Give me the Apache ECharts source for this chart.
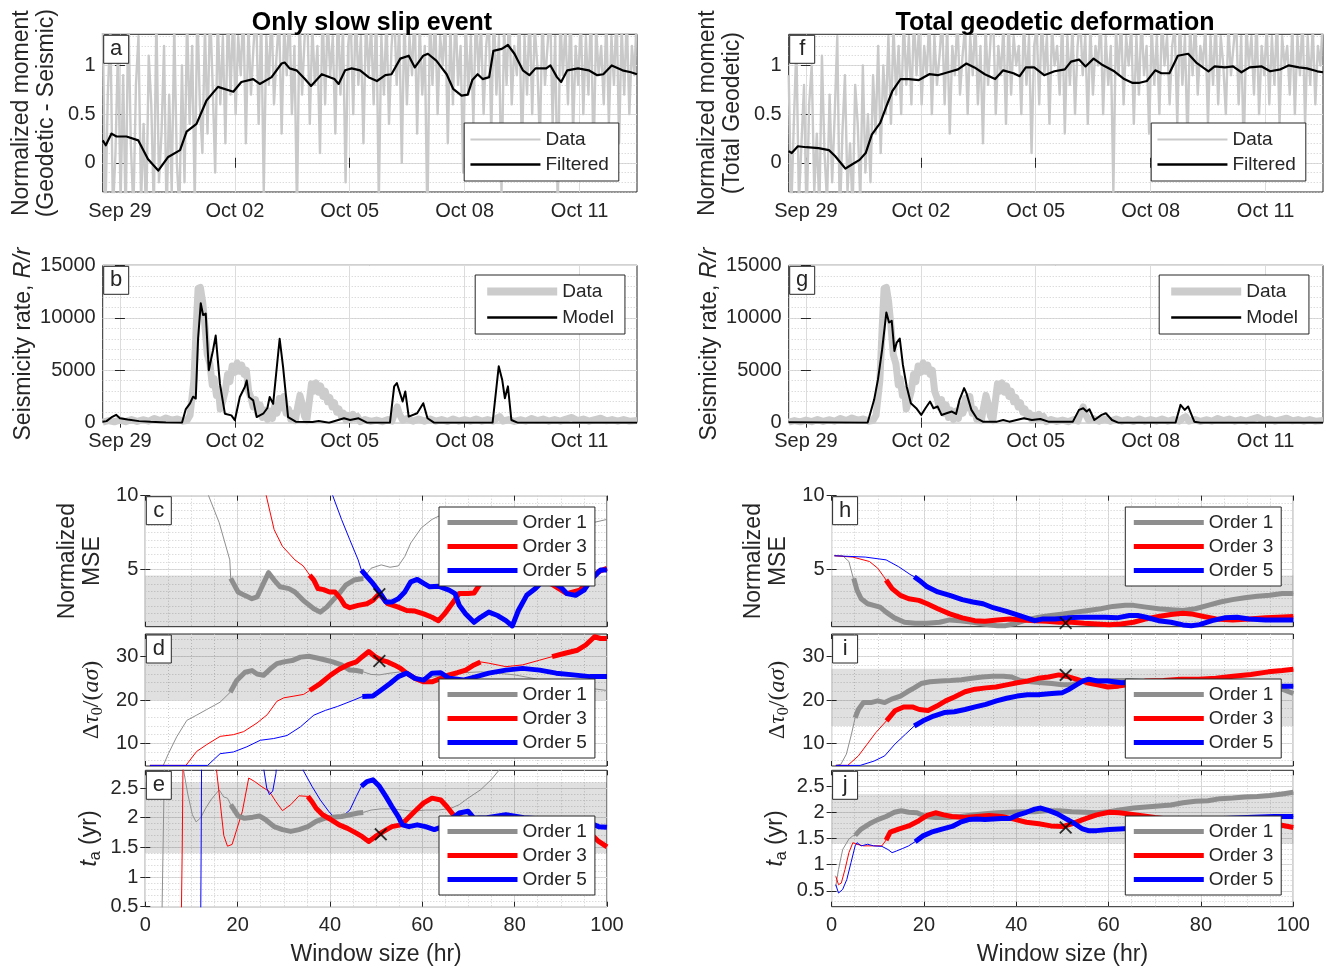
<!DOCTYPE html>
<html><head><meta charset="utf-8">
<script src="https://cdn.jsdelivr.net/npm/echarts@6/dist/echarts.min.js"></script>
<style>html,body{margin:0;padding:0;background:#fff}#c{width:1327px;height:972px}</style>
</head><body><div id="c"></div>
<script>
// ================= DATA =================
const dateTickValues = [0, 3, 6, 9, 12];
const dateTickLabels = ['Sep 29', 'Oct 02', 'Oct 05', 'Oct 08', 'Oct 11'];
const timeStart = -0.45, timeEnd = 13.5;           // days since Sep 29 00:00
const momentTicks = [0, 0.5, 1];
const rateTicks = [0, 5000, 10000, 15000];
const windowTicks = [0, 20, 40, 60, 80, 100];
const mseTicks = [5, 10];
const stressTicks = [10, 20, 30];
const taTicks = [0.5, 1, 1.5, 2, 2.5];

// Panel a: filtered normalized moment (Geodetic - Seismic)
const aFiltered = [[-0.45,0.23],[-0.37,0.18],[-0.22,0.30],[-0.09,0.27],[0.17,0.27],[0.48,0.23],[0.73,0.04],[1.0,-0.08],[1.26,0.06],[1.57,0.13],[1.74,0.32],[2.0,0.40],[2.26,0.64],[2.56,0.78],[2.96,0.73],[3.17,0.83],[3.48,0.86],[3.65,0.81],[3.96,0.88],[4.22,1.02],[4.30,1.03],[4.43,0.97],[4.61,0.95],[4.83,0.86],[4.99,0.79],[5.27,0.91],[5.60,0.86],[5.71,0.81],[5.88,0.95],[6.05,0.97],[6.27,0.95],[6.49,0.88],[6.71,0.84],[6.93,0.90],[7.09,0.91],[7.32,1.07],[7.54,1.10],[7.70,0.98],[7.92,1.10],[8.04,1.12],[8.26,1.05],[8.53,0.91],[8.70,0.76],[8.92,0.69],[9.08,0.70],[9.20,0.85],[9.34,0.91],[9.47,0.86],[9.64,0.88],[9.75,1.15],[9.97,1.17],[10.13,1.21],[10.30,1.12],[10.52,0.95],[10.69,0.90],[10.85,0.97],[11.13,0.97],[11.24,1.0],[11.41,0.88],[11.52,0.83],[11.68,0.95],[11.96,0.97],[12.24,0.95],[12.46,0.90],[12.62,0.91],[12.84,1.0],[13.12,0.95],[13.34,0.93],[13.5,0.91]];
// Panel a: raw data, evenly sampled from timeStart to timeEnd
const aDataRaw = [1.5,-0.6,0.7,1.4,-0.5,0.1,1.2,-0.4,0.9,-0.6,1.6,0.2,-0.5,0.8,1.3,-0.4,0.4,-0.6,1.1,0.6,-0.5,1.5,-0.2,0.3,1.2,-0.6,0.7,-0.3,1.4,0.0,-0.5,1.0,
 -0.2,1.5,0.4,1.2,-0.4,1.6,0.6,0.1,1.4,0.3,1.6,0.8,-0.1,1.5,0.6,1.3,0.2,1.6,0.7,
 1.5,0.5,1.3,0.9,1.6,0.2,1.4,0.7,1.2,1.6,0.4,1.5,-0.3,1.3,0.8,1.6,0.6,1.1,1.5,0.3,
 1.4,0.9,1.6,0.5,1.2,-0.5,1.5,0.7,1.3,1.6,0.4,1.4,0.8,1.2,0.1,1.6,0.6,1.5,0.9,1.3,
 0.3,1.6,0.7,1.4,-0.2,1.2,1.5,0.5,1.6,0.8,1.3,0.2,1.5,0.9,1.4,0.6,1.6,-0.4,1.3,0.7,
 1.5,0.4,1.2,1.6,0.8,1.4,0.0,1.5,0.6,1.3,0.9,1.6,0.3,1.4,0.7,1.2,-0.6,1.5,0.8,1.6,
 0.5,1.3,1.0,1.5,0.2,1.4,0.6,1.6,0.8,1.2,-0.1,1.5,0.7,1.3,0.4,1.6,0.9,1.4,0.5,1.2,
 1.5,0.3,1.6,0.7,1.3,-0.3,1.4,0.8,1.6,0.6,1.2,0.9,1.5,0.1,1.3,0.7,1.6,0.5,1.4,1.0,
 0.2,1.5,0.8,1.2,1.6,0.4,1.3,-0.5,1.5,0.9,1.4,0.6,1.6,0.3,1.2,0.8,1.5,0.5,1.3,0.7,
 1.6,0.0,1.4,0.9,1.2,0.6,1.5,0.4,1.3,0.8,1.6,0.2,1.4,0.7,1.5,0.5,1.2,0.9,1.6];
// Panel f: filtered normalized moment (Total Geodetic)
const fFiltered = [[-0.45,0.12],[-0.37,0.10],[-0.21,0.17],[0.01,0.16],[0.33,0.15],[0.60,0.13],[0.76,0.07],[0.97,-0.03],[1.03,-0.06],[1.19,-0.02],[1.40,0.03],[1.56,0.10],[1.72,0.29],[1.94,0.41],[2.10,0.58],[2.26,0.74],[2.47,0.86],[2.69,0.86],[2.95,0.85],[3.22,0.91],[3.44,0.90],[3.71,0.93],[3.97,0.96],[4.19,1.02],[4.40,0.98],[4.67,0.91],[4.94,0.86],[5.15,0.95],[5.42,0.92],[5.58,0.89],[5.74,0.98],[5.96,0.98],[6.22,0.90],[6.49,0.94],[6.76,0.96],[6.92,1.04],[7.13,1.06],[7.30,0.99],[7.51,1.07],[7.72,1.01],[8.05,0.94],[8.31,0.86],[8.53,0.82],[8.69,0.82],[8.90,0.84],[9.12,0.95],[9.28,0.92],[9.49,0.92],[9.71,1.10],[9.98,1.12],[10.19,1.03],[10.51,0.94],[10.67,0.99],[10.94,0.98],[11.15,0.99],[11.37,0.93],[11.58,0.98],[11.90,0.99],[12.12,0.94],[12.39,0.96],[12.60,1.0],[12.87,0.98],[13.08,0.97],[13.35,0.94],[13.5,0.93]];
const fDataRaw = [0.9,-0.5,0.4,1.2,-0.4,0.2,0.8,-0.6,0.6,1.0,-0.3,0.3,-0.5,1.1,0.1,-0.4,0.7,-0.2,0.5,1.3,-0.6,0.3,0.9,-0.3,0.2,-0.5,0.8,0.4,-0.4,1.0,-0.1,0.5,
 -0.2,0.9,0.3,1.2,0.1,1.0,0.5,1.3,0.4,1.4,0.7,1.2,0.5,1.5,0.8,1.3,0.6,1.5,0.9,
 1.4,0.6,1.2,0.9,1.5,0.5,1.3,0.8,1.1,1.5,0.6,1.4,0.3,1.2,0.9,1.5,0.7,1.1,1.4,0.5,
 1.3,0.9,1.5,0.6,1.2,0.2,1.4,0.8,1.3,1.5,0.5,1.2,0.9,1.4,0.4,1.5,0.7,1.3,1.0,1.2,
 0.5,1.5,0.8,1.3,0.1,1.2,1.4,0.6,1.5,0.9,1.3,0.4,1.4,1.0,1.2,0.7,1.5,0.3,1.3,0.8,
 1.4,0.5,1.2,1.5,0.9,1.3,0.4,1.4,0.7,1.2,1.0,1.5,0.5,1.3,0.8,1.2,-0.3,1.4,0.9,1.5,
 0.6,1.3,1.0,1.4,0.4,1.3,0.7,1.5,0.9,1.2,0.3,1.4,0.8,1.3,0.5,1.5,1.0,1.3,0.6,1.2,
 1.4,0.4,1.5,0.8,1.3,0.2,1.4,0.9,1.5,0.7,1.2,1.0,1.4,0.4,1.3,0.8,1.5,0.6,1.3,1.0,
 0.5,1.4,0.9,1.2,1.5,0.6,1.3,0.1,1.4,1.0,1.3,0.7,1.5,0.5,1.2,0.9,1.4,0.6,1.3,0.8,
 1.5,0.4,1.3,1.0,1.2,0.7,1.4,0.5,1.3,0.9,1.5,0.4,1.3,0.8,1.4,0.6,1.2,1.0,1.5];
// Panels b, g: observed seismicity rate
const seisData = [[-0.45,50],[-0.3,200],[-0.15,80],[0.0,250],[0.15,100],[0.3,300],[0.45,120],[0.6,280],[0.75,150],[0.9,400],[1.05,200],[1.2,450],[1.35,250],[1.5,350],[1.65,150],[1.75,200],[1.83,700],[1.93,4000],[1.99,9000],[2.04,12800],[2.1,12900],[2.16,11500],[2.22,9200],[2.28,6500],[2.35,5600],[2.41,3600],[2.46,4200],[2.52,2600],[2.57,3200],[2.62,1300],[2.68,2000],[2.75,3000],[2.81,4600],[2.87,3900],[2.93,5400],[3.0,4800],[3.06,5700],[3.12,4900],[3.18,5500],[3.24,4600],[3.3,5000],[3.36,3000],[3.42,2400],[3.48,1500],[3.54,2200],[3.6,900],[3.66,1700],[3.72,500],[3.78,1200],[3.85,300],[3.92,1100],[3.98,400],[4.04,1600],[4.1,900],[4.16,2300],[4.22,1400],[4.28,2500],[4.34,900],[4.4,1300],[4.46,300],[4.52,900],[4.58,200],[4.64,1500],[4.7,2600],[4.76,1800],[4.82,600],[4.88,200],[4.94,1900],[5.0,3700],[5.06,3000],[5.12,3800],[5.18,2900],[5.24,3500],[5.3,2500],[5.36,3000],[5.42,2000],[5.48,2400],[5.54,1500],[5.6,1900],[5.66,1000],[5.72,1300],[5.78,600],[5.84,900],[5.9,250],[5.96,700],[6.02,300],[6.08,800],[6.14,400],[6.2,600],[6.28,100],[6.4,300],[6.55,120],[6.7,250],[6.85,100],[7.0,300],[7.1,150],[7.17,900],[7.24,1500],[7.3,800],[7.38,250],[7.5,400],[7.65,150],[7.8,350],[7.95,150],[8.1,350],[8.25,150],[8.4,300],[8.55,120],[8.7,350],[8.85,150],[9.0,300],[9.15,150],[9.3,350],[9.45,150],[9.6,300],[9.75,150],[9.85,450],[9.92,580],[10.0,150],[10.15,300],[10.3,120],[10.45,280],[10.6,150],[10.75,400],[10.9,200],[11.05,350],[11.2,150],[11.35,300],[11.5,150],[11.65,350],[11.8,500],[11.95,200],[12.1,350],[12.25,150],[12.4,300],[12.55,420],[12.7,180],[12.85,300],[13.0,150],[13.15,300],[13.3,150],[13.5,200]];
const bModel = [[-0.45,100],[-0.35,150],[-0.2,560],[-0.1,750],[0.0,420],[0.2,300],[0.5,150],[0.8,80],[1.2,20],[1.62,0],[1.72,1300],[1.83,1850],[1.91,2480],[1.98,2300],[2.04,8000],[2.11,11380],[2.17,10260],[2.24,10400],[2.32,5000],[2.43,6900],[2.50,8300],[2.61,3720],[2.74,860],[2.91,700],[3.0,230],[3.13,2450],[3.26,3400],[3.31,4030],[3.37,2450],[3.48,2130],[3.57,540],[3.75,900],[3.85,1400],[3.91,2450],[4.0,1800],[4.17,8000],[4.26,5300],[4.39,540],[4.59,100],[5.03,60],[5.19,160],[5.46,0],[5.85,420],[6.01,260],[6.23,420],[6.45,0],[7.05,0],[7.16,3460],[7.23,3780],[7.38,2020],[7.45,2980],[7.54,580],[7.76,900],[7.92,1860],[8.03,420],[8.20,0],[9.73,0],[9.89,5380],[9.98,4100],[10.05,2340],[10.13,3460],[10.22,260],[10.38,0],[13.5,0]];
const gModel = [[-0.45,50],[1.61,0],[1.78,2180],[1.88,4100],[1.99,6990],[2.10,10510],[2.17,9550],[2.24,9710],[2.31,6830],[2.37,7630],[2.45,8010],[2.53,5550],[2.63,3460],[2.74,1860],[2.88,1380],[3.01,740],[3.12,1380],[3.24,2020],[3.33,1380],[3.44,1540],[3.54,740],[3.67,900],[3.81,1060],[3.92,830],[4.01,2180],[4.13,3300],[4.19,2820],[4.32,1220],[4.46,417],[4.62,100],[4.99,100],[5.15,256],[5.31,100],[5.69,417],[5.9,256],[6.12,350],[6.33,100],[6.97,100],[7.13,1220],[7.24,1380],[7.33,1060],[7.4,1280],[7.53,256],[7.72,740],[7.83,900],[7.99,256],[8.15,0],[9.65,0],[9.78,1700],[9.89,1220],[9.98,1540],[10.14,100],[10.3,0],[13.5,0]];

// Panels c-e (only slow slip event) vs window size
const cOrder1 = [[12,12],[13.7,10],[16,8.17],[18.3,5.64],[18.5,4.38],[20.1,3.46],[21.5,3.23],[23.1,3.0],[24.2,3.12],[25.6,4.04],[26.7,4.77],[27.9,4.27],[29.2,3.81],[31.1,3.69],[32.4,3.46],[34.2,2.89],[36.5,2.32],[37.9,2.09],[39.3,2.43],[40.6,2.89],[42.0,3.35],[43.4,3.92],[45.2,4.27],[47.2,4.38],[48.9,5.07],[51.1,5.30],[53.0,5.14],[54.8,5.23],[56.2,5.87],[57.5,6.79],[59.8,7.82],[62.1,8.39],[64.4,8.74],[68.9,8.85],[73.5,8.51],[78.1,8.62],[82.6,8.28],[87.2,8.05],[91.8,7.94],[96,8.1],[100,8.39]];
const cOrder3 = [[24,12],[26.2,10],[27.9,7.7],[29.7,6.56],[32.4,5.64],[34.2,5.23],[35.6,4.61],[36.5,4.27],[37.4,3.69],[38.6,3.62],[39.9,3.46],[41.1,3.46],[42.3,3.0],[43.2,2.55],[44.3,2.39],[46.1,2.55],[48.0,2.66],[49.3,2.89],[50.7,3.35],[52.5,2.66],[54.8,2.43],[56.6,2.2],[58.4,2.16],[60.3,1.97],[62.1,1.74],[63.5,1.51],[64.8,1.97],[66.7,2.78],[68.0,3.35],[69.9,3.35],[71.2,3.39],[72.6,4.04],[76,4.5],[80,4.6],[84,4.4],[88,4.0],[91.3,3.35],[94.1,3.58],[96.3,4.27],[98.2,4.84],[100,5.07]];
const cOrder5 = [[39,12],[40.6,10],[42.5,8.39],[44.3,7.0],[46.1,5.64],[46.8,4.95],[48.0,4.5],[49.3,4.04],[50.7,3.46],[52.1,2.78],[53.4,2.78],[54.8,3.0],[56.2,3.46],[57.5,4.15],[58.9,4.31],[60.3,4.04],[61.6,3.81],[63.5,3.85],[65.8,3.58],[67.1,3.35],[68.0,2.55],[69.4,1.97],[71.2,1.4],[72.6,1.74],[74.4,2.09],[76.3,1.86],[78.1,1.51],[79.5,1.15],[80.8,2.2],[82.6,3.23],[84.5,3.69],[86.3,4.27],[88.1,4.15],[89.9,3.81],[91.3,3.35],[93.2,3.23],[95.0,3.58],[96.8,4.38],[98.6,4.95],[100,4.95]];
const dOrder1 = [[1.0,4.9],[3.9,4.9],[5.0,7.6],[6.8,11.5],[9.0,15.3],[11.1,16.5],[13.3,17.8],[16.2,19.5],[18.4,21.8],[19.8,24.5],[21.6,26.4],[23.1,26.8],[24.2,26.0],[25.6,25.7],[27.1,27.2],[28.5,28.4],[30.0,28.8],[31.8,29.1],[33.6,29.9],[35.4,30.1],[37.2,29.7],[38.8,29.3],[40.6,28.8],[42.5,28.1],[44.3,26.9],[45.7,26.8],[47.2,26.5],[48.9,25.9],[50.7,25.8],[53.0,26.2],[55.3,26.5],[57.5,25.4],[59.8,24.6],[62.6,25.4],[65.3,25.8],[68.9,26.3],[72.6,26.5],[76.3,26.2],[80,25.8],[84,25.0],[88,24.0],[92,23.3],[96.3,22.7],[100,22.2]];
const dOrder3 = [[1.0,4.9],[8.8,4.9],[11.1,8.1],[13.3,9.7],[16.2,11.6],[19.1,12.0],[21.3,12.7],[24.2,14.7],[26.4,16.6],[28.5,19.7],[30.0,20.5],[32.2,20.9],[34.3,21.3],[35.6,22.2],[37.9,23.8],[40.2,25.8],[42.0,27.1],[43.8,28.1],[45.7,28.8],[47.0,30.0],[48.4,31.2],[49.8,30.0],[51.1,29.2],[52.5,28.8],[53.9,28.1],[55.3,27.3],[56.6,26.2],[58.4,25.0],[60.3,24.2],[62.1,24.2],[64.0,25.0],[65.8,25.8],[67.6,26.3],[69.4,26.9],[71.2,28.1],[72.6,28.8],[74.4,28.5],[78.1,27.7],[81.7,28.1],[85.4,29.2],[88.1,30.0],[90.9,30.8],[93.6,31.5],[95.4,32.7],[97.3,34.6],[98.6,34.2],[100,34.2]];
const dOrder5 = [[1.0,4.9],[13.5,4.9],[16.2,7.6],[19.1,8.0],[22.0,9.2],[24.9,10.7],[27.8,11.1],[30.7,11.8],[33.6,13.8],[36.5,16.5],[39,17.6],[41.6,18.5],[45.2,20.0],[47.0,20.8],[49.3,20.9],[51.1,22.3],[53.0,23.8],[54.8,25.4],[56.6,26.2],[58.4,25.0],[60.3,24.6],[62.1,26.2],[64.0,26.3],[65.8,25.0],[68.9,24.6],[71.7,25.4],[74.4,26.2],[78.1,26.9],[81.7,27.3],[85.4,26.9],[89.0,26.2],[92.7,25.8],[96.3,25.4],[100,25.4]];
const eOrder1 = [[3.6,0.3],[4.2,3.2],[7.5,3.2],[8.3,2.8],[9.2,2.4],[10.2,2.05],[11.0,1.93],[12.0,2.0],[13.0,2.15],[14.2,2.3],[16.0,2.47],[17.0,2.35],[17.8,2.33],[18.5,2.22],[20.1,2.03],[21.5,1.99],[23.3,2.01],[24.7,2.03],[26.0,1.97],[27.9,1.85],[29.7,1.80],[31.5,1.77],[33.3,1.80],[35.2,1.85],[37.0,1.94],[38.8,1.99],[40.6,2.01],[42.5,2.02],[44.3,2.05],[46.1,2.08],[47.2,2.09],[48.9,2.13],[51.1,2.15],[53.4,2.15],[55.7,2.13],[58.0,2.11],[60.7,2.13],[63.5,2.13],[66.2,2.16],[68.0,2.22],[69.9,2.33],[72.6,2.47],[74.9,2.64],[76.7,2.81],[78,3.0]];
const eOrder3 = [[7.8,0.3],[8.0,1.5],[8.2,3.2],[14.8,3.2],[15.5,2.75],[16.3,2.2],[17.0,1.7],[17.8,1.52],[18.8,1.55],[19.8,1.8],[21.0,2.1],[22.4,2.67],[23.7,2.61],[25.1,2.53],[26.9,2.44],[28.3,2.27],[29.7,2.12],[31.5,2.22],[33.3,2.37],[35.2,2.36],[36.1,2.27],[37.0,2.16],[38.4,2.05],[40.2,1.97],[42.0,1.88],[43.8,1.82],[45.7,1.74],[47.0,1.68],[48.4,1.60],[49.8,1.68],[51.6,1.77],[53.4,1.85],[55.3,1.88],[56.6,1.97],[58.4,2.11],[60.3,2.25],[62.1,2.33],[64.0,2.30],[65.3,2.19],[66.7,2.05],[70,1.95],[75,1.9],[80,1.92],[85,1.95],[90,1.9],[94,1.85],[96.3,1.74],[98.2,1.60],[100,1.51]];
const eOrder5 = [[12.0,0.3],[12.1,1.5],[12.2,3.2],[25.3,3.2],[25.7,2.8],[26.3,2.5],[26.9,2.39],[27.6,2.45],[28.3,2.75],[28.7,3.2],[33.8,3.2],[34.2,2.8],[36.1,2.53],[37.9,2.30],[39.7,2.11],[41.1,1.99],[42.5,2.01],[44.3,2.13],[45.7,2.36],[46.8,2.53],[48.0,2.61],[49.3,2.64],[50.7,2.53],[52.1,2.36],[53.4,2.19],[54.8,2.02],[55.7,1.88],[57.1,1.85],[58.9,1.88],[60.7,1.85],[62.6,1.80],[64.4,1.85],[66.2,1.97],[68.0,2.08],[69.9,2.11],[71.2,1.99],[74,2.0],[78.1,2.05],[82,2.0],[86,1.98],[90,1.95],[94,1.93],[96.3,1.91],[98.2,1.85],[100,1.84]];
// Panels h-j (total geodetic deformation)
const hOrder1 = [[0.6,5.92],[2.4,5.92],[3.75,5.53],[4.6,4.5],[4.8,4.38],[5.5,3.58],[6.4,3.0],[7.8,2.66],[9.1,2.55],[10.5,2.43],[11.8,2.09],[13.6,1.70],[15.8,1.40],[18.1,1.33],[20.7,1.33],[23.4,1.40],[25.6,1.56],[27.9,1.51],[30.6,1.40],[33.2,1.26],[35.9,1.16],[37.7,1.17],[39.9,1.33],[42.2,1.56],[44.9,1.74],[47.5,1.86],[50.2,1.97],[52.9,2.09],[55.6,2.2],[58.3,2.32],[60.9,2.48],[63.6,2.55],[65.4,2.55],[68.1,2.43],[70.8,2.32],[73.5,2.25],[76.1,2.2],[78.8,2.32],[81.5,2.55],[84.2,2.78],[86.8,2.94],[89.5,3.07],[92.2,3.17],[94.9,3.23],[97.6,3.35],[100,3.35]];
const hOrder3 = [[0.6,5.92],[4.6,5.83],[8.2,5.53],[10.0,5.07],[11.3,4.5],[11.8,4.27],[13.1,3.69],[14.9,3.23],[16.7,3.0],[18.9,2.89],[20.7,2.66],[23.0,2.32],[25.6,1.97],[28.3,1.70],[31.0,1.51],[33.2,1.47],[35.9,1.56],[38.6,1.63],[41.3,1.56],[44.0,1.51],[46.6,1.47],[49.3,1.40],[52.0,1.40],[54.7,1.33],[57.4,1.28],[60.1,1.24],[62.7,1.28],[65.4,1.40],[68.1,1.63],[70.8,1.79],[73.5,1.93],[76.1,2.02],[77.9,1.97],[80.6,1.79],[83.3,1.63],[86.9,1.56],[90.4,1.63],[94.0,1.70],[96.7,1.74],[100,1.79]];
const hOrder5 = [[0.6,5.92],[7.3,5.83],[11.8,5.64],[14.5,5.18],[17.2,4.61],[17.9,4.5],[19.4,4.15],[20.7,3.81],[23.0,3.46],[25.6,3.23],[28.3,2.94],[30.6,2.78],[32.8,2.66],[35.0,2.39],[37.7,2.16],[39.9,1.93],[42.2,1.70],[44.0,1.51],[45.8,1.63],[48.4,1.63],[51.1,1.70],[53.8,1.74],[56.5,1.74],[59.2,1.74],[61.8,1.70],[64.5,1.86],[66.3,1.86],[68.1,1.74],[70.8,1.51],[73.5,1.40],[76.1,1.22],[77.9,1.17],[79.7,1.24],[82.4,1.51],[85.1,1.70],[87.8,1.74],[90.4,1.63],[94.0,1.56],[97.6,1.56],[100,1.56]];
const iOrder1 = [[0.9,4.9],[2.0,5.15],[3.2,7.5],[4.3,12.1],[5.1,15.9],[5.8,17.8],[6.9,19.4],[8.5,19.4],[10.0,19.8],[11.5,19.4],[13.0,20.2],[14.9,20.9],[16.4,21.9],[17.9,22.8],[19.4,23.8],[21.3,24.2],[23.6,24.4],[25.8,24.5],[28.1,24.7],[30.4,25.0],[32.6,25.3],[34.9,25.5],[37.2,25.5],[39.0,25.3],[40.9,24.5],[43.2,24.2],[45.5,24.0],[47.7,23.8],[50.0,23.5],[52.3,23.6],[54.5,24.4],[56.8,24.5],[59.8,24.5],[64.3,24.5],[71.9,24.0],[79.5,24.0],[87.0,23.6],[93.0,23.2],[97.6,22.5],[100,21.5]];
const iOrder3 = [[0.9,4.9],[3.5,4.9],[5.8,7.1],[7.7,9.8],[9.6,12.5],[11.9,15.2],[13.7,17.5],[15.6,18.4],[17.5,18.4],[19.0,17.8],[20.9,17.6],[22.8,18.6],[24.7,19.8],[26.6,20.7],[28.9,21.9],[31.1,22.5],[33.4,22.8],[35.6,23.0],[37.9,23.5],[40.2,24.0],[42.5,24.4],[44.7,25.0],[47.0,25.3],[49.2,25.8],[50.8,25.5],[53.0,24.8],[55.3,24.0],[57.6,23.5],[59.8,23.0],[62.1,23.2],[64.4,23.6],[68.1,24.4],[71.9,24.5],[75.7,24.8],[79.5,24.8],[83.2,25.0],[87.0,25.5],[90.8,25.9],[94.6,26.5],[97.6,26.8],[100,27.1]];
const iOrder5 = [[0.9,4.9],[6.2,4.9],[9.2,5.9],[11.5,7.1],[13.7,9.8],[16.0,12.1],[17.9,14.0],[19.8,15.2],[22.1,16.3],[24.4,17.1],[26.6,17.3],[28.9,17.8],[31.1,18.4],[33.4,19.0],[35.7,19.8],[37.9,20.4],[40.2,20.9],[42.4,21.2],[44.7,21.2],[47.7,21.5],[50.0,21.7],[51.5,22.5],[53.0,23.5],[54.5,24.4],[55.7,24.8],[57.6,24.4],[59.8,24.4],[62.8,24.0],[68,24.2],[75.7,24.2],[83.2,23.6],[90.8,23.5],[97.6,23.2],[100,23.2]];
const jOrder1 = [[0.9,0.59],[1.5,0.91],[2.4,1.29],[3.75,1.49],[4.6,1.55],[5.1,1.56],[6.4,1.68],[8.2,1.78],[10.0,1.86],[11.8,1.92],[13.6,2.0],[15.1,2.03],[16.7,2.0],[18.5,1.99],[20.3,1.92],[22.5,1.90],[25.2,1.90],[27.9,1.92],[30.6,1.95],[33.2,1.97],[35.9,1.99],[38.6,2.0],[41.3,2.01],[44.0,2.01],[46.6,2.03],[49.3,2.03],[52.0,2.01],[54.7,2.0],[57.4,1.99],[60.1,2.01],[62.7,2.05],[65.4,2.08],[68.1,2.10],[70.8,2.12],[73.5,2.14],[76.1,2.18],[78.8,2.21],[81.5,2.22],[84.2,2.26],[86.9,2.27],[89.5,2.29],[92.2,2.30],[94.9,2.32],[97.6,2.35],[100,2.38]];
const jOrder3 = [[0.9,0.78],[1.5,0.62],[2.1,0.65],[2.9,0.91],[3.75,1.23],[4.6,1.42],[5.5,1.39],[6.9,1.36],[9.1,1.36],[10.9,1.36],[11.8,1.47],[12.7,1.62],[14.5,1.68],[16.7,1.74],[18.9,1.84],[20.7,1.94],[22.5,1.99],[24.3,1.95],[26.1,1.92],[28.8,1.90],[31.5,1.92],[34.1,1.94],[36.8,1.92],[39.5,1.87],[42.2,1.81],[44.9,1.78],[47.5,1.74],[50.2,1.73],[52.0,1.78],[54.7,1.87],[57.4,1.95],[60.1,2.0],[62.3,1.99],[66,1.95],[70,1.9],[75,1.85],[80,1.85],[85,1.82],[90,1.8],[95.8,1.78],[100,1.71]];
const jOrder5 = [[0.9,0.62],[1.5,0.46],[2.4,0.53],[3.3,0.72],[4.2,1.04],[5.1,1.36],[5.5,1.42],[6.4,1.36],[7.8,1.39],[9.1,1.36],[10.9,1.35],[12.2,1.29],[13.1,1.23],[14.0,1.26],[15.4,1.31],[16.7,1.36],[18.1,1.44],[19.8,1.55],[21.6,1.62],[23.9,1.68],[26.1,1.73],[27.9,1.81],[29.7,1.86],[31.5,1.87],[33.2,1.86],[35.0,1.87],[36.8,1.88],[38.6,1.88],[40.4,1.95],[42.2,2.0],[44.0,2.06],[45.3,2.08],[47.1,2.03],[48.9,1.97],[50.7,1.88],[52.5,1.79],[54.2,1.69],[55.6,1.65],[57.4,1.65],[60.1,1.67],[62.3,1.68],[66,1.7],[70,1.75],[75,1.8],[80,1.85],[85,1.88],[90,1.9],[95.8,1.92],[100,1.92]];
// valid (thick) window ranges per order
const cThick = {o1: [[18.5,47.2]], o3: [[35.6,100]], o5: [[46.8,100]]};
const dThick = {o1: [[18.4,47.2]], o3: [[35.6,72.6],[88.1,100]], o5: [[47.0,100]]};
const eThick = {o1: [[18.5,47.2]], o3: [[35.2,100]], o5: [[46.8,100]]};
const hThick = {o1: [[4.8,100]], o3: [[11.8,100]], o5: [[17.9,100]]};
const iThick = {o1: [[5.1,100]], o3: [[11.9,100]], o5: [[17.9,100]]};
const jThick = {o1: [[5.1,100]], o3: [[11.8,100]], o5: [[18.1,100]]};
// selected (X) points
const cBest = [50.7, 3.3], dBest = [50.7, 29.0], eBest = [51.0, 1.72];
const hBest = [50.7, 1.35], iBest = [50.7, 25.8], jBest = [50.7, 1.71];
// shaded acceptable bands [low, high]
const cBand = [1.1, 4.57], dBand = [20, 35.24], eBand = [1.4, 2.6];
const hBand = [1.1, 4.57], iBand = [14, 27.2], jBand = [1.4, 2.35];

// ================= STYLE / LAYOUT =================
const FONT = '"Liberation Sans", Arial, Helvetica, sans-serif';
const SERIF = '"Liberation Serif", "DejaVu Serif", serif';
const TXT = '#262626';
const MAJOR = '#dcdcdc';
const MINOR = '#cdcdcd';
const C_GRAY = '#8e8e8e', C_RED = '#ff0000', C_BLUE = '#0000ff', C_DATA = '#c9c9c9';

function range(a, b, step) { const out = []; for (let k = 0; a + k * step <= b + 1e-9; k++) out.push(Math.round((a + k * step) * 1000) / 1000); return out; }

const grids = [], xAxes = [], yAxes = [], series = [], legends = [], titles = [];

function addPanel(o) {
  const gi = grids.length;
  grids.push({left: o.left, top: o.top, width: o.width, height: o.height, show: true, borderColor: TXT, borderWidth: 1, backgroundColor: 'transparent'});
  const xi = xAxes.length;
  xAxes.push({type: 'value', gridIndex: gi, min: o.xMin, max: o.xMax, position: 'bottom',
    axisLine: {show: false},
    axisTick: {show: true, inside: true, length: 5, customValues: o.xMajor, lineStyle: {color: TXT}},
    axisLabel: {show: !!o.xLabels, customValues: o.xMajor, formatter: o.xFormatter, fontSize: 20, color: TXT, fontFamily: FONT, margin: 9},
    splitLine: {show: true, lineStyle: {color: MAJOR, width: 1}},
    name: o.xName || '', nameLocation: 'middle', nameGap: 36, nameTextStyle: {fontSize: 23, color: TXT, fontFamily: FONT}});
  xAxes.push({type: 'value', gridIndex: gi, min: o.xMin, max: o.xMax, position: 'top', axisLine: {show: false},
    axisTick: {show: true, inside: true, length: 5, customValues: o.xMajor, lineStyle: {color: TXT}},
    axisLabel: {show: false}, splitLine: {show: false}});
  if (o.xMinor) xAxes.push({type: 'value', gridIndex: gi, min: o.xMin, max: o.xMax, position: 'bottom', axisLine: {show: false},
    axisTick: {show: false, customValues: o.xMinor}, axisLabel: {show: false},
    splitLine: {show: true, lineStyle: {color: MINOR, width: 1, type: [1, 2]}}});
  const yi = yAxes.length;
  yAxes.push({type: 'value', gridIndex: gi, min: o.yMin, max: o.yMax, position: 'left', axisLine: {show: false},
    axisTick: {show: true, inside: true, length: 5, customValues: o.yMajor, lineStyle: {color: TXT}},
    axisLabel: {customValues: o.yMajor, formatter: (v) => String(v), fontSize: 20, color: TXT, fontFamily: FONT, margin: 7},
    splitLine: {show: true, lineStyle: {color: MAJOR, width: 1}},
    name: o.yName, nameLocation: 'middle', nameGap: o.yNameGap, nameRotate: 90,
    nameTextStyle: {fontSize: 23, color: TXT, fontFamily: FONT, lineHeight: 25, rich: o.yRich || {}}});
  yAxes.push({type: 'value', gridIndex: gi, min: o.yMin, max: o.yMax, position: 'right', axisLine: {show: false},
    axisTick: {show: true, inside: true, length: 5, customValues: o.yMajor, lineStyle: {color: TXT}},
    axisLabel: {show: false}, splitLine: {show: false}});
  if (o.yMinor) yAxes.push({type: 'value', gridIndex: gi, min: o.yMin, max: o.yMax, position: 'left', axisLine: {show: false},
    axisTick: {show: false, customValues: o.yMinor}, axisLabel: {show: false},
    splitLine: {show: true, lineStyle: {color: MINOR, width: 1, type: [1, 2]}}});
  titles.push({text: '{l|' + o.letter + '}', left: o.left + 0.5, top: o.top + 0.5, padding: [3, 6, 3, 6],
    borderColor: TXT, borderWidth: 1, backgroundColor: '#fff',
    textStyle: {fontWeight: 'normal', rich: {l: {fontSize: 22, fontWeight: 'normal', color: TXT, fontFamily: FONT, width: 14, align: 'center', lineHeight: 23}}}});
  return {xi, yi};
}

function lineSeries(P, name, data, color, width, z, extra) {
  series.push(Object.assign({type: 'line', name, xAxisIndex: P.xi, yAxisIndex: P.yi, data, symbol: 'none',
    lineStyle: {color, width, join: 'round'}, itemStyle: {color}, z, silent: true, animation: false}, extra || {}));
}

function thickPart(full, ranges) {
  const out = [];
  ranges.forEach((r, k) => {
    if (k > 0) out.push(['-', '-']);
    full.forEach(pt => { if (pt[0] >= r[0] - 1e-9 && pt[0] <= r[1] + 1e-9) out.push(pt); });
  });
  return out;
}

function orderPanel(P, o1, o3, o5, thick, best, band, xMin, xMax) {
  lineSeries(P, 'o1 thin', o1, C_GRAY, 1, 2, {markArea: {silent: true, itemStyle: {color: 'rgba(0,0,0,0.12)'},
    data: [[{coord: [xMin, band[0]]}, {coord: [xMax, band[1]]}]]}});
  lineSeries(P, 'o3 thin', o3, C_RED, 1, 2);
  lineSeries(P, 'o5 thin', o5, C_BLUE, 1, 2);
  lineSeries(P, 'Order 1', thickPart(o1, thick.o1), C_GRAY, 5, 3);
  lineSeries(P, 'Order 3', thickPart(o3, thick.o3), C_RED, 5, 3);
  lineSeries(P, 'Order 5', thickPart(o5, thick.o5), C_BLUE, 5, 3);
  series.push({type: 'scatter', name: 'best', xAxisIndex: P.xi, yAxisIndex: P.yi, data: [best],
    symbol: 'path://M0,2L2,0L10,8L18,0L20,2L12,10L20,18L18,20L10,12L2,20L0,18L8,10Z', symbolSize: 13,
    itemStyle: {color: '#000'}, z: 5, silent: true, animation: false});
}

const hiddenSymbol = {color: 'rgba(0,0,0,0)', borderColor: 'rgba(0,0,0,0)', borderWidth: 0, opacity: 0};
function legend(left, top, items, pad, gap, lineStyle) {
  legends.push({orient: 'vertical', left, top, data: items, itemWidth: 70, itemHeight: 20, itemGap: gap, padding: pad,
    backgroundColor: '#fff', borderColor: TXT, borderWidth: 1, borderRadius: 0, selectedMode: false,
    itemStyle: hiddenSymbol, lineStyle: lineStyle || {}, textStyle: {fontSize: 19, color: TXT, fontFamily: FONT}, z: 10});
}

const dateFmt = (v) => dateTickLabels[dateTickValues.indexOf(v)];
const spread = (raw) => raw.map((v, i) => [timeStart + i * (timeEnd - timeStart) / (raw.length - 1), v]);

const rateRich = {i: {fontStyle: 'italic', fontSize: 23, color: TXT, fontFamily: FONT}};
const stressName = '{n|Δ}{g|τ}{s|0}{n|/(}{g|aσ}{n|)}';
const stressRich = {n: {fontSize: 24, fontFamily: SERIF, color: TXT, lineHeight: 28},
  g: {fontSize: 24, fontFamily: SERIF, fontStyle: 'italic', color: TXT, lineHeight: 28},
  s: {fontSize: 16, fontFamily: SERIF, color: TXT, lineHeight: 16, verticalAlign: 'bottom'}};
const taName = '{g|t}{s|a}{n| (yr)}';
const taRich = {n: {fontSize: 23, fontFamily: FONT, color: TXT, lineHeight: 28},
  g: {fontSize: 23, fontFamily: FONT, fontStyle: 'italic', color: TXT, lineHeight: 28},
  s: {fontSize: 16, fontFamily: FONT, color: TXT, lineHeight: 16, verticalAlign: 'bottom'}};

const cols = [
  {top: 102.7, bot: 145.3, letters: ['a', 'b', 'c', 'd', 'e'], title: 'Only slow slip event', tx: 372,
   momentName: 'Normalized moment\n(Geodetic - Seismic)', filt: aFiltered, raw: aDataRaw, model: bModel,
   ord: [[cOrder1, cOrder3, cOrder5, cThick, cBest, cBand], [dOrder1, dOrder3, dOrder5, dThick, dBest, dBand], [eOrder1, eOrder3, eOrder5, eThick, eBest, eBand]]},
  {top: 788.7, bot: 831.6, letters: ['f', 'g', 'h', 'i', 'j'], title: 'Total geodetic deformation', tx: 1055,
   momentName: 'Normalized moment\n(Total Geodetic)', filt: fFiltered, raw: fDataRaw, model: gModel,
   ord: [[hOrder1, hOrder3, hOrder5, hThick, hBest, hBand], [iOrder1, iOrder3, iOrder5, iThick, iBest, iBand], [jOrder1, jOrder3, jOrder5, jThick, jBest, jBand]]}
];

cols.forEach((C, ci) => {
  titles.push({text: C.title, left: C.tx - 5, top: 6, textAlign: 'center',
    textStyle: {fontSize: 25, fontWeight: 'bold', color: '#000', fontFamily: FONT}});
  // moment panel
  const PA = addPanel({letter: C.letters[0], left: C.top, top: 34.3, width: 534.3, height: 157.7,
    xMin: timeStart, xMax: timeEnd, xMajor: dateTickValues, xLabels: true, xFormatter: dateFmt,
    yMin: -0.3, yMax: 1.32, yMajor: momentTicks, yMinor: range(-0.3, 1.3, 0.1),
    yName: C.momentName, yNameGap: 44});
  lineSeries(PA, 'Data', spread(C.raw), C_DATA, 2.4, 2);
  lineSeries(PA, 'Filtered', C.filt, '#000', 2.2, 3);
  legend(C.top + 361.5 + (ci ? 1 : 0), 123, [{name: 'Data', lineStyle: {width: 2, color: C_DATA}}, {name: 'Filtered', lineStyle: {width: 2.5, color: '#000'}}],
    [7, 10, 7, 5], 6);
  // seismicity panel
  const PB = addPanel({letter: C.letters[1], left: C.top, top: 265.3, width: 534.3, height: 157.4,
    xMin: timeStart, xMax: timeEnd, xMajor: dateTickValues, xLabels: true, xFormatter: dateFmt,
    yMin: 0, yMax: 15000, yMajor: rateTicks, yMinor: range(1000, 14000, 1000),
    yName: 'Seismicity rate, {i|R/r}', yRich: rateRich, yNameGap: 62});
  lineSeries(PB, 'Data', seisData, '#cccccc', 7, 2);
  lineSeries(PB, 'Model', C.model, '#000', 2, 3);
  legend(C.top + 372.5 - (ci ? 2 : 0), 275, [{name: 'Data', lineStyle: {width: 8, color: '#cccccc'}}, {name: 'Model', lineStyle: {width: 2.5, color: '#000'}}],
    [7, 11, 7, 8], 7);
  // window-size panels
  const specs = [
    {top: 495.7, height: 131, yMin: 1.1, yMax: 10, yMajor: mseTicks, yMinor: range(1.5, 9.5, 0.5), yName: 'Normalized\nMSE', yNameGap: 40, legTop: 507},
    {top: 634, height: 132, yMin: 4.76, yMax: 35.24, yMajor: stressTicks, yMinor: range(6, 34, 2), yName: stressName, yRich: stressRich, yNameGap: 40, legTop: 679},
    {top: 770.3, height: 136.4, yMin: ci ? 0.2 : 0.5, yMax: 2.8, yMajor: taTicks, yMinor: range(ci ? 0.3 : 0.6, 2.7, 0.1), yName: taName, yRich: taRich, yNameGap: 42, legTop: 816}
  ];
  specs.forEach((S, k) => {
    const last = k === 2;
    const P = addPanel({letter: C.letters[2 + k], left: C.bot, top: S.top, width: 461.7, height: S.height,
      xMin: 0, xMax: 100, xMajor: windowTicks, xMinor: range(5, 95, 5), xLabels: last, xFormatter: (v) => String(v),
      xName: last ? 'Window size (hr)' : '',
      yMin: S.yMin, yMax: S.yMax, yMajor: S.yMajor, yMinor: S.yMinor, yName: S.yName, yRich: S.yRich, yNameGap: S.yNameGap});
    const d = C.ord[k];
    orderPanel(P, d[0], d[1], d[2], d[3], d[4], d[5], 0, 100);
    legend(C.bot + 293.7, S.legTop, ['Order 1', 'Order 3', 'Order 5'], [6, 8, 6, 6], 5, {width: 5});
  });
});

const chart = echarts.init(document.getElementById('c'), null, {renderer: 'canvas'});
chart.setOption({
  animation: false,
  backgroundColor: '#ffffff',
  textStyle: {fontFamily: FONT},
  title: titles, grid: grids, xAxis: xAxes, yAxis: yAxes, legend: legends, series: series
});
</script></body></html>
